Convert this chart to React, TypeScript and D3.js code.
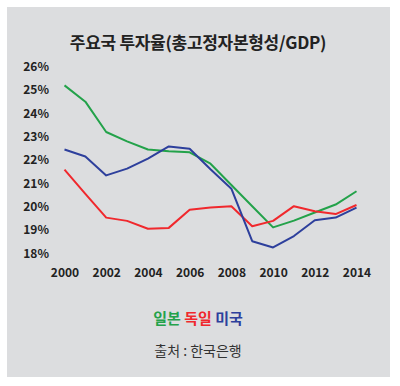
import React, { useEffect, useRef } from 'react';
import * as d3 from 'd3';

const years = [2000, 2001, 2002, 2003, 2004, 2005, 2006, 2007, 2008, 2009, 2010, 2011, 2012, 2013, 2014];
const japan = [25.2, 24.5, 23.2, 22.8, 22.45, 22.38, 22.33, 21.84, 20.93, 20.02, 19.11, 19.4, 19.75, 20.09, 20.66];
const germany = [21.59, 20.55, 19.53, 19.39, 19.05, 19.09, 19.87, 19.96, 20.02, 19.16, 19.39, 20.02, 19.8, 19.68, 20.07];
const usa = [22.45, 22.15, 21.34, 21.63, 22.06, 22.58, 22.48, 21.6, 20.77, 18.52, 18.25, 18.74, 19.42, 19.53, 19.96];
const yTicks = [18, 19, 20, 21, 22, 23, 24, 25, 26];
const xTicks = [2000, 2002, 2004, 2006, 2008, 2010, 2012, 2014];

const seriesNames = ['일본', '독일', '미국'];
const seriesColors = ['#23a24a', '#f0282d', '#2d3f9c'];
const seriesData = [japan, germany, usa];

const FONT = '"Noto Sans CJK KR", "Noto Sans", sans-serif';

const App = () => {
	const ref = useRef<SVGSVGElement>(null);

	useEffect(() => {
		const svg = d3.select(ref.current);
		svg.selectAll('*').remove();

		svg.append('rect')
			.attr('x', 7).attr('y', 7)
			.attr('width', 383).attr('height', 370)
			.attr('fill', '#dcdddf');

		svg.append('text')
			.attr('x', 198).attr('y', 49)
			.attr('text-anchor', 'middle')
			.style('font-family', FONT)
			.style('font-weight', 'bold')
			.style('font-size', '17px')
			.style('letter-spacing', '-0.3px')
			.attr('fill', '#222')
			.text('주요국 투자율(총고정자본형성/GDP)');

		const x = d3.scaleLinear().domain([2000, 2014]).range([64.5, 356.5]);
		const y = d3.scaleLinear().domain([18, 26]).range([253.3, 66.7]);

		const yAxis = svg.append('g')
			.attr('transform', 'translate(49,0)')
			.call(d3.axisLeft(y).tickValues(yTicks).tickSize(0).tickPadding(0).tickFormat(d => `${d}%`));
		yAxis.select('.domain').remove();
		yAxis.selectAll('text')
			.style('font-family', FONT)
			.style('font-weight', 'bold')
			.style('font-size', '12px')
			.attr('fill', '#222');

		const xAxis = svg.append('g')
			.attr('transform', 'translate(0,268)')
			.call(d3.axisBottom(x).tickValues(xTicks).tickSize(0).tickPadding(0).tickFormat(d3.format('d')));
		xAxis.select('.domain').remove();
		xAxis.selectAll('text')
			.style('font-family', FONT)
			.style('font-weight', 'bold')
			.style('font-size', '12px')
			.attr('fill', '#222');

		const line = d3.line<number>()
			.x((d, i) => x(years[i]))
			.y(d => y(d));

		seriesData.forEach((vals, i) => {
			svg.append('path')
				.datum(vals)
				.attr('fill', 'none')
				.attr('stroke', seriesColors[i])
				.attr('stroke-width', 2)
				.attr('stroke-linejoin', 'round')
				.attr('d', line);
		});

		const legend = svg.append('text')
			.attr('x', 198).attr('y', 324)
			.attr('text-anchor', 'middle')
			.style('font-family', FONT)
			.style('font-weight', 'bold')
			.style('font-size', '15px');
		seriesNames.forEach((name, i) => {
			legend.append('tspan')
				.attr('fill', seriesColors[i])
				.text((i > 0 ? ' ' : '') + name);
		});

		svg.append('text')
			.attr('x', 198).attr('y', 356)
			.attr('text-anchor', 'middle')
			.style('font-family', FONT)
			.style('font-size', '14px')
			.attr('fill', '#333')
			.text('출처 : 한국은행');
	}, []);

	return <svg ref={ref} width={400} height={386} style={{ position: 'absolute', left: 0, top: 0, background: '#fff' }} />;
};

export default App;
